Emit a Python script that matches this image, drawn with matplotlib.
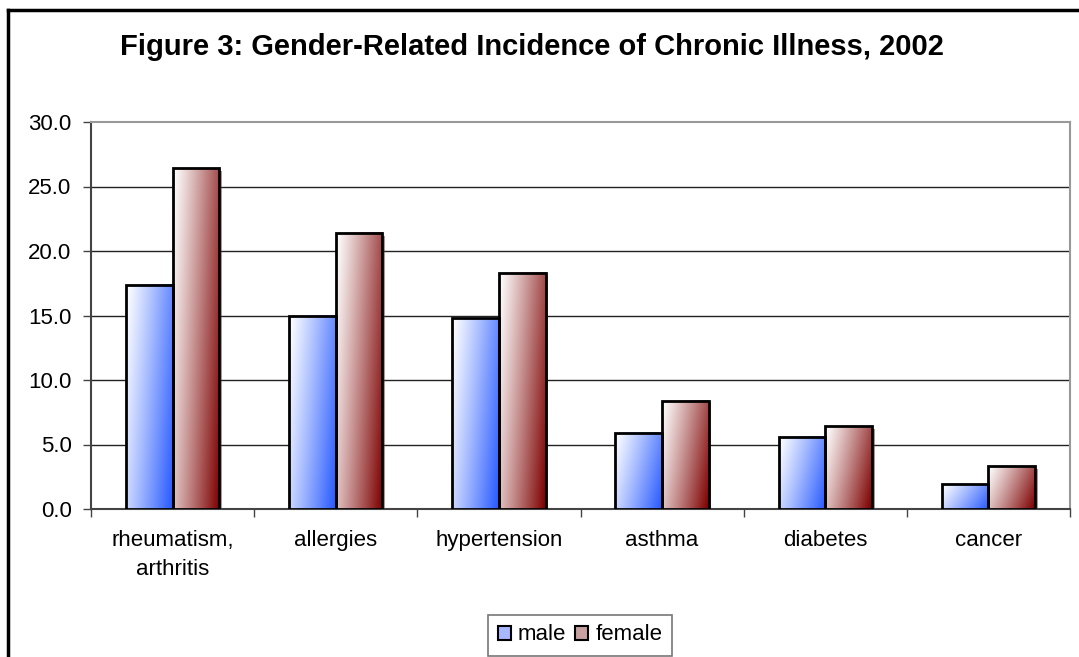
import numpy as np
import matplotlib
matplotlib.use('Agg')
import matplotlib.pyplot as plt
from matplotlib.patches import Rectangle, Patch
from matplotlib.lines import Line2D
from matplotlib.transforms import ScaledTranslation

plt.rcParams['font.family'] = ['Liberation Sans', 'DejaVu Sans']

categories = ['rheumatism,\narthritis', 'allergies', 'hypertension', 'asthma', 'diabetes', 'cancer']
male = [17.4, 15.0, 14.8, 5.9, 5.6, 1.9]
female = [26.4, 21.4, 18.3, 8.4, 6.4, 3.3]
yticks = [0, 5, 10, 15, 20, 25, 30]

male_end = np.array([40, 90, 255]) / 255.0
female_end = np.array([125, 0, 0]) / 255.0


def gradient(end):
    # white at top-left, full colour at bottom-right
    ny, nx = 60, 30
    xf = np.linspace(0, 1, nx)[None, :]
    yf = np.linspace(1, 0, ny)[:, None]   # row 0 is top
    t = 0.72 * xf + 0.28 * (1 - yf)
    t = t ** 1.1
    img = np.ones((ny, nx, 3)) * (1 - t[..., None]) + end[None, None, :] * t[..., None]
    return img


fig = plt.figure(figsize=(10.79, 6.57), dpi=100)
ax = fig.add_axes([91 / 1079, 1 - 509 / 657, (1070 - 91) / 1079, (509 - 122) / 657])

w = 0.2857
x = np.arange(len(categories))
shadow = ax.transData + ScaledTranslation(2 / 72, -2 / 72, fig.dpi_scale_trans)

for vals, end, off in [(male, male_end, -w / 2), (female, female_end, w / 2)]:
    img = gradient(end)
    for xi, v in zip(x, vals):
        x0 = xi + off - w / 2
        ax.add_patch(Rectangle((x0, 0), w, v, transform=shadow, facecolor='#5a3030' if end is female_end else '#30305a',
                               edgecolor='none', alpha=0.5, zorder=2))
        ax.imshow(img, extent=[x0, x0 + w, 0, v], aspect='auto', origin='upper', zorder=3, interpolation='bilinear')
        ax.add_patch(Rectangle((x0, 0), w, v, facecolor='none', edgecolor='black', linewidth=2, zorder=4))

ax.set_xlim(-0.5, len(categories) - 0.5)
ax.set_ylim(0, 30)
ax.set_yticks(yticks)
ax.set_yticklabels(['%.1f' % t for t in yticks])
ax.set_xticks(x)
ax.set_xticklabels(categories, linespacing=1.5)
ax.set_xticks(np.arange(len(categories) + 1) - 0.5, minor=True)

for yv in yticks[1:-1]:
    ax.axhline(yv, color='#222222', linewidth=1, zorder=1)

ax.tick_params(axis='x', which='major', length=0, pad=15, labelsize=16)
ax.tick_params(axis='x', which='minor', length=6, width=1, color='#444444', direction='out')
ax.tick_params(axis='y', length=6, width=1, color='#444444', pad=8, labelsize=16)

ax.spines['left'].set_color('#444444')
ax.spines['bottom'].set_color('#444444')
ax.spines['top'].set_color('#999999')
ax.spines['right'].set_color('#999999')
for s in ax.spines.values():
    s.set_linewidth(1.5)

fig.text(532 / 1079, 1 - 47 / 657, 'Figure 3: Gender-Related Incidence of Chronic Illness, 2002',
         ha='center', va='center', fontsize=21, fontweight='bold')

# outer chart frame (top and left edges visible)
fig.add_artist(Line2D([8 / 1079, 1], [1 - 10 / 657, 1 - 10 / 657], color='black', linewidth=2.5))
fig.add_artist(Line2D([8 / 1079, 8 / 1079], [0, 1 - 10 / 657], color='black', linewidth=2.5))

handles = [Patch(facecolor='#a8b8ff', edgecolor='black', linewidth=1.5),
           Patch(facecolor='#c8a0a0', edgecolor='black', linewidth=1.5)]
leg = fig.legend(handles, ['male', 'female'], loc='center', bbox_to_anchor=(580 / 1079, 1 - 635 / 657),
                 ncol=2, fontsize=16, frameon=True, fancybox=False, edgecolor='#555555',
                 handlelength=0.6, handleheight=0.6, handletextpad=0.3, columnspacing=0.4,
                 borderpad=0.45, borderaxespad=0)
leg.get_frame().set_linewidth(1.2)

fig.savefig('out.png', dpi=100)
